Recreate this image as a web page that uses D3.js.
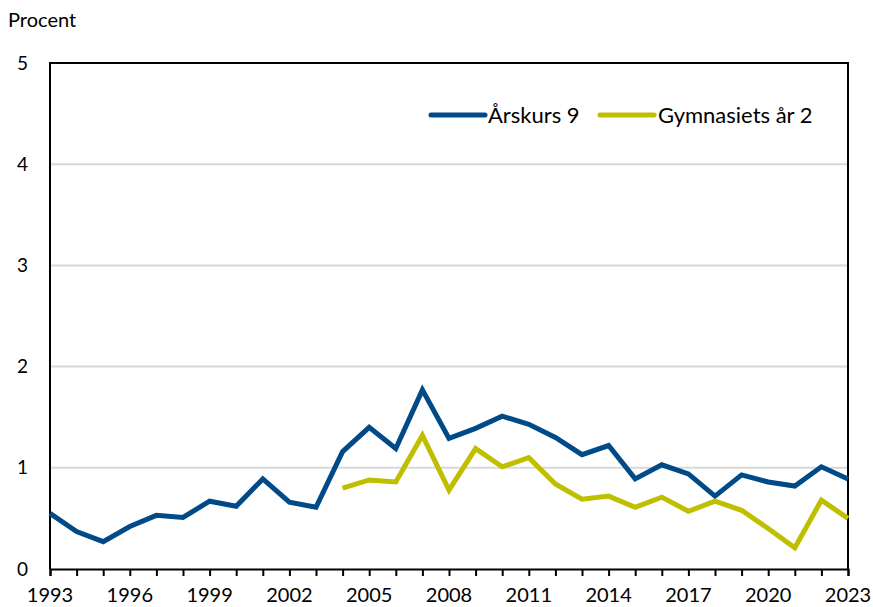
<!DOCTYPE html>
<html>
<head>
<meta charset="utf-8">
<script src="https://cdn.jsdelivr.net/npm/d3@7"></script>
<style>
  body { margin: 0; background: #fff; }
  text { font-family: Lato, "Open Sans", sans-serif; fill: #000; }
</style>
</head>
<body>
<svg id="chart" width="873" height="607"></svg>
<script>
// Data
const years = d3.range(1993, 2024);
const arskurs9 = [0.55, 0.37, 0.27, 0.42, 0.53, 0.51, 0.67, 0.62, 0.89, 0.66,
  0.61, 1.16, 1.40, 1.19, 1.77, 1.29, 1.39, 1.51, 1.43, 1.30,
  1.13, 1.22, 0.89, 1.03, 0.94, 0.72, 0.93, 0.86, 0.82, 1.01, 0.89];
const gymnasiet2 = [null, null, null, null, null, null, null, null, null, null,
  null, 0.80, 0.88, 0.86, 1.32, 0.78, 1.19, 1.01, 1.10, 0.84,
  0.69, 0.72, 0.61, 0.71, 0.57, 0.67, 0.58, 0.40, 0.21, 0.68, 0.50];
const yTicks = [0, 1, 2, 3, 4, 5];
const xLabelYears = d3.range(1993, 2024, 3);

const series = [
  { name: 'Årskurs 9', values: arskurs9, color: '#004a87' },
  { name: 'Gymnasiets år 2', values: gymnasiet2, color: '#bfbf00' },
];

const svg = d3.select('#chart');
const m = { left: 50, right: 848, top: 63, bottom: 569 };

const x = d3.scaleLinear().domain([1993, 2023]).range([m.left, m.right]);
const y = d3.scaleLinear().domain([0, 5]).range([m.bottom, m.top]);

// Gridlines
svg.append('g').selectAll('line')
  .data(yTicks.filter((d) => d > 0 && d < 5))
  .join('line')
  .attr('x1', m.left).attr('x2', m.right)
  .attr('y1', (d) => y(d)).attr('y2', (d) => y(d))
  .attr('stroke', '#d9d9d9').attr('stroke-width', 2);

// Frame (left, top, right)
svg.append('path')
  .attr('d', `M${m.left},${m.bottom}V${m.top}H${m.right}V${m.bottom}`)
  .attr('fill', 'none').attr('stroke', '#000').attr('stroke-width', 2);

// Y labels
svg.append('g').selectAll('text')
  .data(yTicks)
  .join('text')
  .attr('x', 28).attr('y', (d) => y(d))
  .attr('dy', '0.35em')
  .attr('text-anchor', 'end')
  .attr('font-size', 19)
  .text((d) => d);

svg.append('text')
  .attr('x', 8).attr('y', 27)
  .attr('font-size', 20)
  .text('Procent');

// X axis
const xAxis = d3.axisBottom(x)
  .tickValues(years)
  .tickSize(7)
  .tickFormat('');
const gx = svg.append('g')
  .attr('transform', `translate(0,${m.bottom})`)
  .call(xAxis);
gx.select('.domain').attr('stroke', '#000').attr('stroke-width', 2);
gx.selectAll('.tick line').attr('stroke', '#000').attr('stroke-width', 2);

svg.append('g').selectAll('text')
  .data(xLabelYears)
  .join('text')
  .attr('x', (d) => x(d))
  .attr('y', 602)
  .attr('text-anchor', 'middle')
  .attr('font-size', 20)
  .text((d) => d);

// Lines
const line = d3.line()
  .defined((d) => d != null)
  .x((d, i) => x(years[i]))
  .y((d) => y(d));

svg.append('g').selectAll('path')
  .data(series)
  .join('path')
  .attr('d', (s) => line(s.values))
  .attr('fill', 'none')
  .attr('stroke', (s) => s.color)
  .attr('stroke-width', 5)
  .attr('stroke-linejoin', 'miter')
  .attr('stroke-linecap', 'butt');

// Legend
const legendPos = [{ x: 431, tx: 488 }, { x: 600, tx: 658 }];
const legend = svg.append('g').selectAll('g')
  .data(series)
  .join('g')
  .attr('transform', 'translate(0,115)');
legend.append('line')
  .attr('x1', (d, i) => legendPos[i].x)
  .attr('x2', (d, i) => legendPos[i].x + 54)
  .attr('stroke', (d) => d.color)
  .attr('stroke-width', 5)
  .attr('stroke-linecap', 'round');
legend.append('text')
  .attr('x', (d, i) => legendPos[i].tx)
  .attr('dy', '0.35em')
  .attr('font-size', 22)
  .text((d) => d.name);
</script>
</body>
</html>
